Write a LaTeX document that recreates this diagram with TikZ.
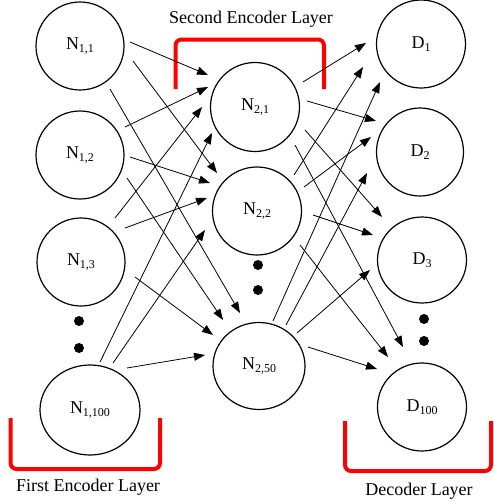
\documentclass[tikz,border=0pt]{standalone}
\usepackage{fontspec}
\setmainfont{Liberation Serif}
\usetikzlibrary{shapes.geometric,arrows.meta,calc}
\newcommand\sbs[1]{\raisebox{-3.5pt}{\fontsize{12}{12}\selectfont #1}}
\newcommand\conn[4]{\draw[arr] ($(#1)+(#2)$) -- ($(#3)+(#4)$);}
\tikzset{
  nd/.style={draw, ellipse, line width=1.2pt, inner sep=0pt, font=\fontsize{18}{20}\selectfont},
  arr/.style={line width=0.8pt, -{Triangle[length=11pt,width=8pt]}},
  brk/.style={draw=red, line width=4pt, rounded corners=6pt},
  lbl/.style={font=\fontsize{18}{20}\selectfont, anchor=base, inner sep=0pt},
  dotm/.style={fill=black, circle, inner sep=0pt, minimum size=10pt}
}
\begin{document}
\begin{tikzpicture}[x=1pt,y=-1pt]
\useasboundingbox (0,0) rectangle (494,504);
% first layer
\node[nd, minimum width=88pt, minimum height=88pt] (n11) at (80,46) {N\sbs{1,1}};
\node[nd, minimum width=88pt, minimum height=88pt] (n12) at (80,155) {N\sbs{1,2}};
\node[nd, minimum width=88pt, minimum height=88pt] (n13) at (81,262) {N\sbs{1,3}};
\node[nd, minimum width=100pt, minimum height=90pt] (n1x) at (90,410) {N\sbs{1,100}};
\node[dotm] (l1) at (79,321) {};
\node[dotm] (l2) at (79,348) {};
% second layer
\node[nd, minimum width=89pt, minimum height=89pt] (n21) at (255,107) {N\sbs{2,1}};
\node[nd, minimum width=89pt, minimum height=88pt] (n22) at (257,211) {N\sbs{2,2}};
\node[nd, minimum width=92pt, minimum height=87pt] (n25) at (259,366) {N\sbs{2,50}};
\node[dotm] (m1) at (258,265) {};
\node[dotm] (m2) at (258,290) {};
% decoder
\node[nd, minimum width=89pt, minimum height=88pt] (d1) at (421,44) {D\sbs{1}};
\node[nd, minimum width=87pt, minimum height=88pt] (d2) at (420,152) {D\sbs{2}};
\node[nd, minimum width=89pt, minimum height=86pt] (d3) at (422,260) {D\sbs{3}};
\node[nd, minimum width=89pt, minimum height=88pt] (d4) at (422,407) {D\sbs{100}};
\node[dotm] (r1) at (424,319) {};
\node[dotm] (r2) at (424,341) {};
% brackets
\draw[brk] (175.5,89) -- (175.5,39.5) -- (324,39.5) -- (324,89);
\draw[brk] (10.5,418) -- (10.5,469) -- (160,469) -- (160,418);
\draw[brk] (345,421) -- (345,471) -- (491,471) -- (491,421);
% labels
\node[lbl] (t1) at (251,23) {Second Encoder Layer};
\node[lbl] (t2) at (88,491) {First Encoder Layer};
\node[lbl] (t3) at (419,495) {Decoder Layer};
% first -> second
\conn{n11}{50,-4}{n21}{-47,-32}
\conn{n11}{53,15}{n22}{-40,-38}
\conn{n11}{30,43}{n25}{-19,-53}
\conn{n12}{45,-28}{n21}{-47,-20}
\conn{n12}{50,2}{n22}{-47,-28}
\conn{n12}{47,23}{n25}{-36,-46}
\conn{n13}{34,-44}{n21}{-53,0}
\conn{n13}{44,-34}{n22}{-50,-13}
\conn{n13}{54,15}{n25}{-46,-31}
\conn{n1x}{10,-48}{n21}{-43,26}
\conn{n1x}{23,-47}{n22}{-52,19}
\conn{n1x}{37,-42}{n25}{-54,-11}
% second -> decoder
\conn{n21}{48,-25}{d1}{-55,-1}
\conn{n21}{52,-6}{d2}{-44,-31}
\conn{n21}{50,23}{d3}{-40,-43}
\conn{n21}{40,38}{d4}{-19,-60}
\conn{n22}{37,-36}{d1}{-58,23}
\conn{n22}{47,-24}{d2}{-49,-15}
\conn{n22}{56,4}{d3}{-49,-25}
\conn{n22}{43,34}{d4}{-34,-50}
\conn{n25}{14,-45}{d1}{-41,38}
\conn{n25}{27,-41}{d2}{-53,21}
\conn{n25}{38,-33}{d3}{-52,10}
\conn{n25}{49,-19}{d4}{-45,-38}
\end{tikzpicture}
\end{document}
